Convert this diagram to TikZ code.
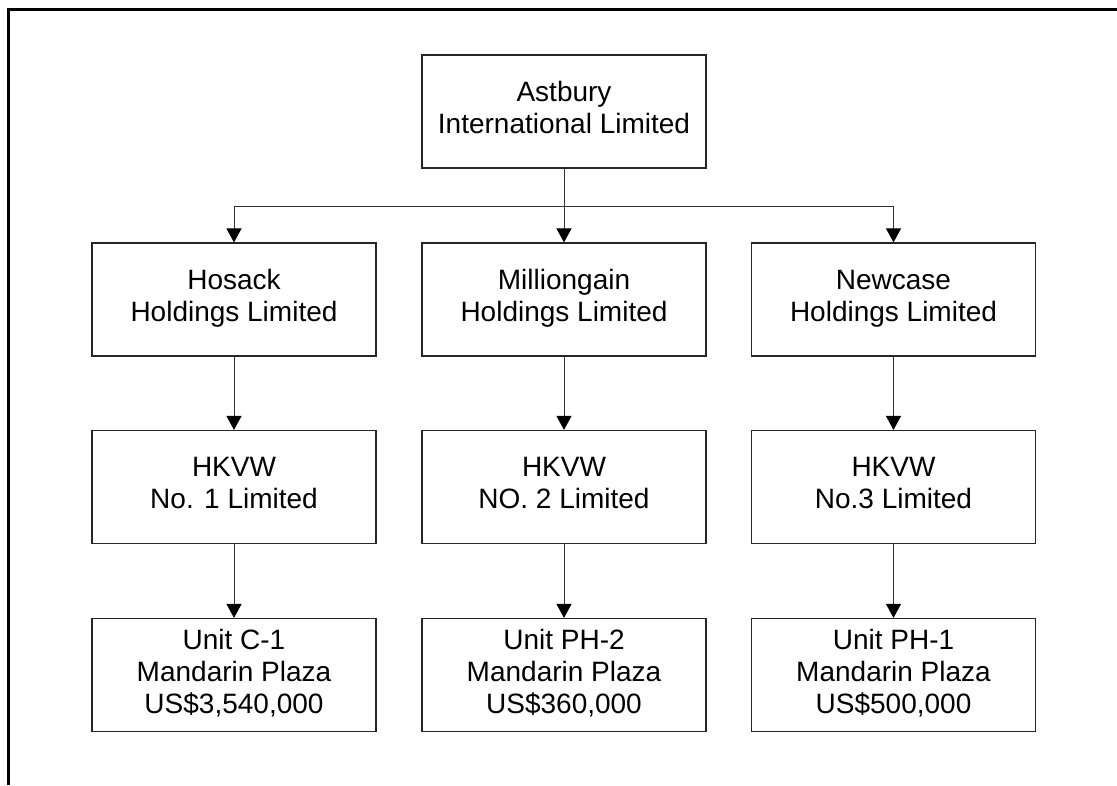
\documentclass[tikz,border=0pt]{standalone}
\usepackage{fontspec}
\setmainfont{Liberation Sans}
\usetikzlibrary{arrows.meta}
% strut used in each line so every box centres its text the same way
\newcommand{\boxstrut}{\rule[-8pt]{0pt}{27.5pt}}
\begin{document}
\begin{tikzpicture}[x=1pt,y=-1pt,
  entity/.style={draw=black!85, line width=1.2pt, rectangle,
    minimum width=284pt, minimum height=113pt, inner sep=0pt,
    align=center, font=\fontsize{28}{32}\selectfont},
  link/.style={draw=black!80, line width=1pt},
  arr/.style={link, -{Triangle[width=15pt,length=14pt,color=black]}}]
\useasboundingbox (0,0) rectangle (1117,785);
% outer frame (top and left edges)
\draw[line width=3pt] (8.5,785) -- (8.5,9.5) -- (1117,9.5);

% parent company
\node[entity] (astbury) at (564,111.5) {\boxstrut Astbury\\International Limited\boxstrut};

% holding companies
\node[entity] (hosack) at (234,299.5) {\boxstrut Hosack\\Holdings Limited\boxstrut};
\node[entity] (milli)  at (564,299.5) {\boxstrut Milliongain\\Holdings Limited\boxstrut};
\node[entity] (newc)   at (893.5,299.5) {\boxstrut Newcase\\Holdings Limited\boxstrut};

% HKVW subsidiaries
\node[entity] (hk1) at (234,487)   {\boxstrut HKVW\\No. 1 Limited\boxstrut};
\node[entity] (hk2) at (564,487)   {\boxstrut HKVW\\NO. 2 Limited\boxstrut};
\node[entity] (hk3) at (893.5,487) {\boxstrut HKVW\\No.3 Limited\boxstrut};

% properties
\node[entity] (u1) at (234,675)   {\boxstrut Unit C-1\\Mandarin Plaza\\US\$3,540,000\boxstrut};
\node[entity] (u2) at (564,675)   {\boxstrut Unit PH-2\\Mandarin Plaza\\US\$360,000\boxstrut};
\node[entity] (u3) at (893.5,675) {\boxstrut Unit PH-1\\Mandarin Plaza\\US\$500,000\boxstrut};

% distribution bar below the parent
\coordinate (bus) at (564,206);
\draw[arr] (astbury.south) -- (milli.north);
\draw[link] (hosack.north |- bus) -- (newc.north |- bus);
\draw[arr] (hosack.north |- bus) -- (hosack.north);
\draw[arr] (newc.north |- bus) -- (newc.north);

% ownership chains
\draw[arr] (hosack.south) -- (hk1.north);
\draw[arr] (milli.south)  -- (hk2.north);
\draw[arr] (newc.south)   -- (hk3.north);
\draw[arr] (hk1.south) -- (u1.north);
\draw[arr] (hk2.south) -- (u2.north);
\draw[arr] (hk3.south) -- (u3.north);
\end{tikzpicture}
\end{document}
